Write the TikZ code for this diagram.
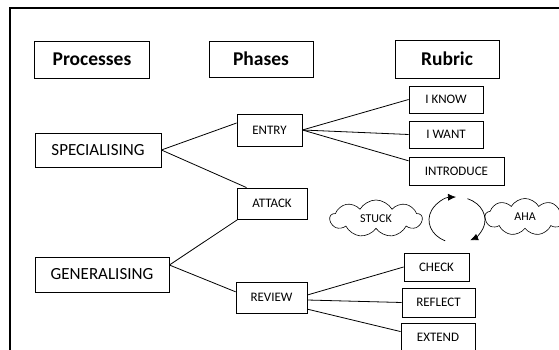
\documentclass[tikz,border=0pt]{standalone}
\usepackage{fontspec}
\setmainfont{Carlito}
\usetikzlibrary{shapes}
\usetikzlibrary{shapes.symbols}
\usetikzlibrary{arrows.meta}
\tikzset{
    headbox/.style = {rectangle, draw=black, line width=0.8pt, inner sep=0pt, font=\fontsize{19.5}{22}\selectfont\bfseries},
    procbox/.style = {rectangle, draw=black, line width=0.8pt, inner sep=0pt, font=\fontsize{17}{20}\selectfont},
    phasebox/.style = {rectangle, draw=black, line width=0.8pt, inner sep=0pt, font=\fontsize{13}{15}\selectfont},
    mycloud/.style = {cloud, cloud puffs=9, cloud puff arc=120, aspect=2.4, draw=black, line width=0.6pt, inner sep=0pt, font=\fontsize{12}{14}\selectfont},
    edgen/.style = {line width=0.8pt},
    edgec/.style = {line width=0.7pt, -{Latex[length=8pt,width=7pt]}}
}

\begin{document}
\begin{tikzpicture}[x=1pt,y=1pt]
\useasboundingbox (0,0) rectangle (559,350);
% frame
\draw[line width=1.5pt] (10,-10) -- (10,342) -- (570,342);
%
\node[headbox, minimum width=115pt, minimum height=37pt] at (92,290.5) (proc) {Processes};
\node[headbox, minimum width=104pt, minimum height=36pt] at (261,291) (phase) {Phases};
\node[headbox, minimum width=104pt, minimum height=38pt] at (447,291) (rub) {Rubric};
%
\node[procbox, minimum width=126pt, minimum height=34pt] at (98,200) (spec) {SPECIALISING};
\node[procbox, minimum width=134pt, minimum height=35pt] at (102,75.5) (gen) {GENERALISING};
%
\node[phasebox, minimum width=65pt, minimum height=32pt] at (269.5,220) (entry) {ENTRY};
\node[phasebox, minimum width=70pt, minimum height=31pt] at (272,146.5) (attack) {ATTACK};
\node[phasebox, minimum width=71pt, minimum height=31pt] at (271.5,52.5) (review) {REVIEW};
%
\node[phasebox, minimum width=74pt, minimum height=27pt] at (446,250.5) (iknow) {I KNOW};
\node[phasebox, minimum width=74pt, minimum height=27pt] at (446,215.5) (iwant) {I WANT};
\node[phasebox, minimum width=95pt, minimum height=28pt] at (456.5,179) (intro) {INTRODUCE};
\node[phasebox, minimum width=65pt, minimum height=28pt] at (436.5,83) (check) {CHECK};
\node[phasebox, minimum width=73pt, minimum height=29pt] at (438.5,47.5) (reflect) {REFLECT};
\node[phasebox, minimum width=74pt, minimum height=29pt] at (438,12.5) (extend) {EXTEND};
%
\node[mycloud, minimum width=92pt, minimum height=37pt] at (376,131.5) (stuck) {STUCK};
\node[mycloud, minimum width=80pt, minimum height=37pt] at (525,133) (aha) {AHA};
%
\draw[edgen] (spec.east) -- (entry.168);
\draw[edgen] (spec.east) -- (attack.148);
\draw[edgen] (gen.8) -- (attack.205);
\draw[edgen] (gen.8) -- (review.171);
\draw[edgen] (entry.east) -- (iknow.west);
\draw[edgen] (entry.east) -- (iwant.west);
\draw[edgen] (entry.east) -- (intro.168);
\draw[edgen] (review.4) -- (check.west);
\draw[edgen] (review.-4) -- (reflect.west);
\draw[edgen] (review.-18) -- (extend.171);
% cycle
\coordinate (cyc) at (457,130);
\draw[edgec] ([shift={(245:28pt and 23pt)}]cyc) arc[start angle=245, end angle=92, x radius=28pt, y radius=23pt];
\draw[edgec] ([shift={(68:28pt and 23pt)}]cyc) arc[start angle=68, end angle=-62, x radius=28pt, y radius=23pt];
\end{tikzpicture}
\end{document}
